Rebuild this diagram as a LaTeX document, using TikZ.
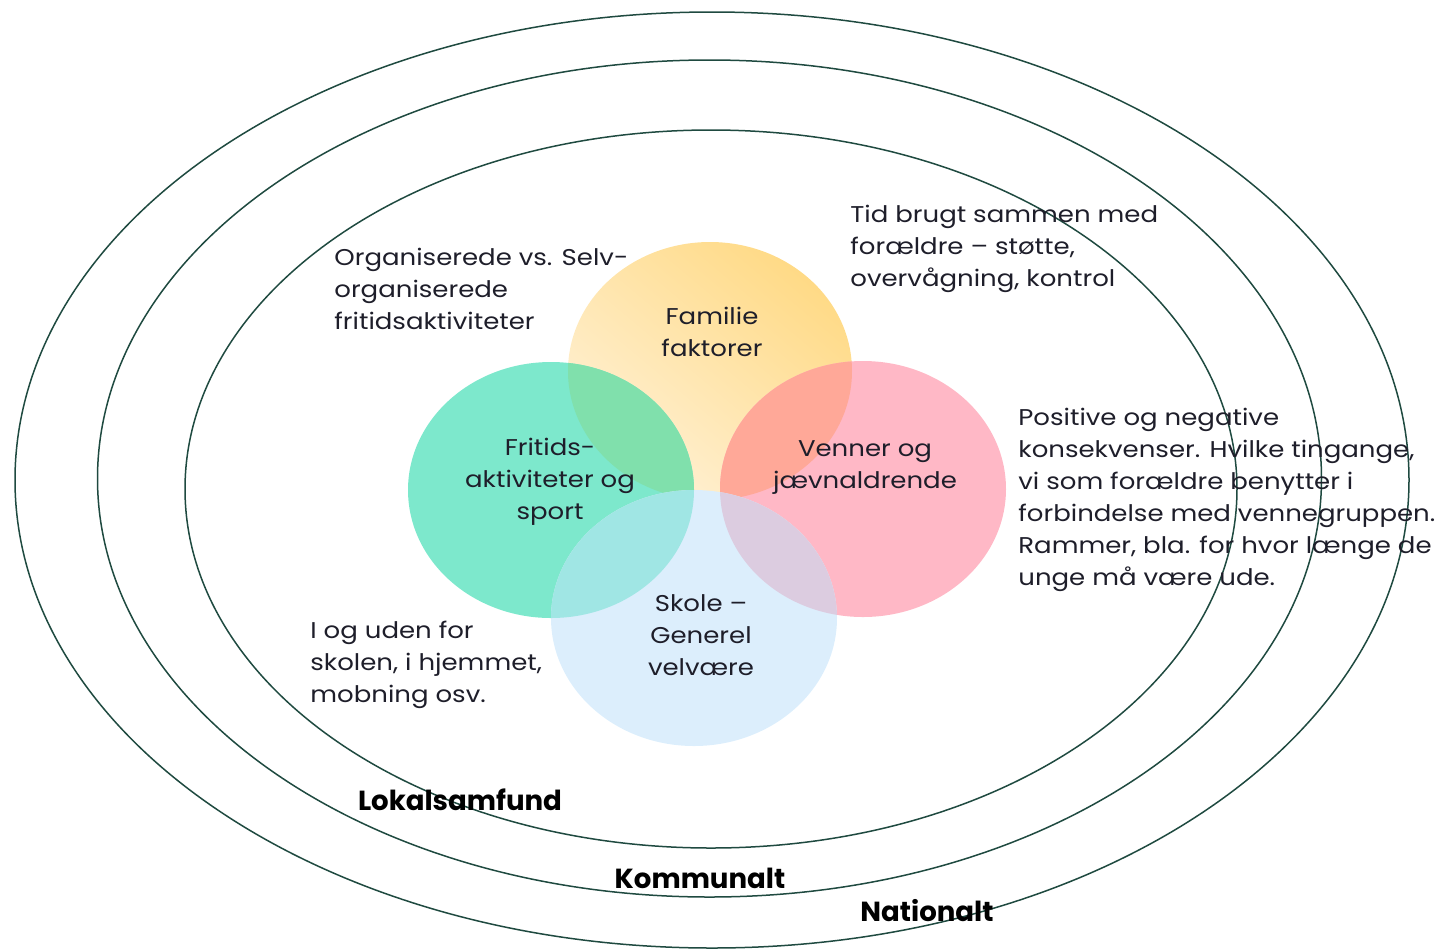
\documentclass[tikz,border=0pt]{standalone}
\usepackage{fontspec}
\setmainfont{Poppins}[FakeStretch=1.14]
\newfontfamily\lvlfont{Poppins}
\definecolor{ringc}{HTML}{1F4A40}
\definecolor{txtc}{HTML}{1E1E2A}
\definecolor{yelA}{HTML}{FFDA86}
\definecolor{yelB}{HTML}{FFF1D6}
\definecolor{grn}{HTML}{7DE8CC}
\definecolor{pnk}{HTML}{FFB8C6}
\definecolor{blu}{HTML}{DCEEFC}
\definecolor{grnyel}{HTML}{80E0AC}
\definecolor{pnkyel}{HTML}{FFA898}
\definecolor{grnblu}{HTML}{A0E6E4}
\definecolor{pnkblu}{HTML}{DCCCE0}
\tikzset{
  ring/.style={draw=ringc, line width=0.75pt},
  body/.style={text=txtc, font=\fontsize{11.4pt}{16pt}\selectfont, inner sep=0pt},
  lefttext/.style={body, align=left, anchor=west},
  midtext/.style={body, align=center},
  level/.style={text=black, font=\lvlfont\fontsize{13.8pt}{15pt}\selectfont\bfseries, inner sep=0pt}
}
\begin{document}
\begin{tikzpicture}[x=0.5pt, y=-0.5pt]
\useasboundingbox (0,0) rectangle (1437,950);
% rings
\draw[ring] (712,480) ellipse [x radius=697, y radius=468];
\draw[ring] (709.5,478.5) ellipse [x radius=612, y radius=418.5];
\draw[ring] (711,489) ellipse [x radius=526, y radius=359];
% venn
\shade[top color=yelA, bottom color=yelB, shading angle=-40] (710,371) ellipse [x radius=142, y radius=129];
\fill[grn] (551,490) ellipse [x radius=143, y radius=128];
\fill[pnk] (863,489) ellipse [x radius=143, y radius=128];
\begin{scope}
  \clip (710,371) ellipse [x radius=142, y radius=129];
  \fill[grnyel] (551,490) ellipse [x radius=143, y radius=128];
  \fill[pnkyel] (863,489) ellipse [x radius=143, y radius=128];
\end{scope}
\fill[blu] (694,618) ellipse [x radius=143, y radius=128];
\begin{scope}
  \clip (694,618) ellipse [x radius=143, y radius=128];
  \fill[grnblu] (551,490) ellipse [x radius=143, y radius=128];
  \fill[pnkblu] (863,489) ellipse [x radius=143, y radius=128];
\end{scope}
% circle labels
\node[midtext] (fam) at (712,332) {Familie\\faktorer};
\node[midtext] (fri) at (550,482) {Fritids-\\aktiviteter og\\sport};
\node[midtext] (ven) at (865,468) {Venner og\\jævnaldrende};
\node[midtext] (sko) at (701,635) {Skole –\\Generel\\velvære};
% notes
\node[lefttext] (tid) at (850,249) {Tid brugt sammen med\\forældre – støtte,\\overvågning, kontrol};
\node[lefttext] (org) at (334,289) {Organiserede vs. Selv-\\organiserede\\fritidsaktiviteter};
\node[lefttext] (pos) at (1018,500) {Positive og negative\\konsekvenser. Hvilke tingange,\\vi som forældre benytter i\\forbindelse med vennegruppen.\\Rammer, bla. for hvor længe de\\unge må være ude.};
\node[lefttext] (iog) at (310,665) {I og uden for\\skolen, i hjemmet,\\mobning osv.};
% level labels
\node[level] (lok) at (460,800) {Lokalsamfund};
\node[level] (kom) at (700,878) {Kommunalt};
\node[level] (nat) at (927,911) {Nationalt};
\end{tikzpicture}
\end{document}
